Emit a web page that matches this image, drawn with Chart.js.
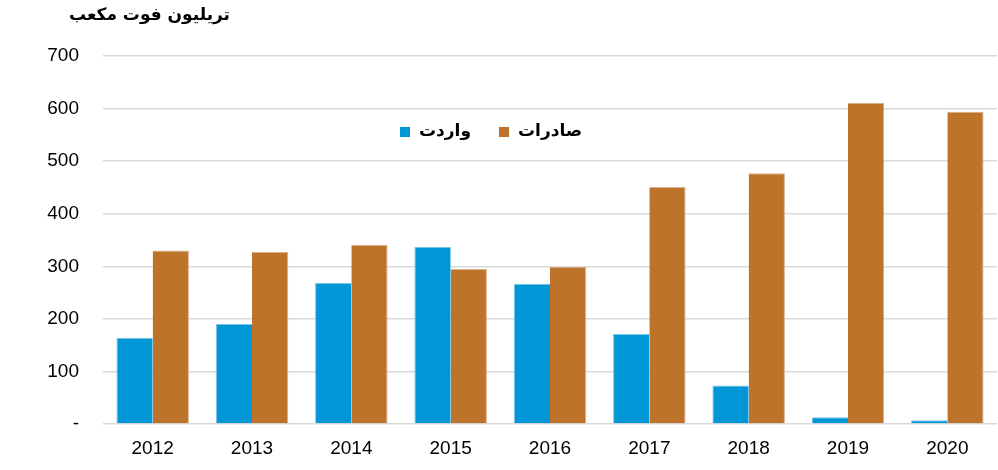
<!DOCTYPE html>
<html><head><meta charset="utf-8">
<script src="https://cdn.jsdelivr.net/npm/chart.js@4"></script>
<style>html,body{margin:0;padding:0;background:#fff}#wrap{width:998px;height:470px}</style>
</head><body><div id="wrap"><canvas id="c" width="998" height="470"></canvas></div>
<script>
const years = ["2012","2013","2014","2015","2016","2017","2018","2019","2020"];
const imports = [164, 190, 268, 337, 267, 171, 73, 13, 7];
const exports = [330, 327, 341, 295, 299, 451, 477, 611, 594];
const importsLabel = "واردت";
const exportsLabel = "صادرات";
const unitTitle = "تريليون فوت مكعب";
const yTicks = [0,100,200,300,400,500,600,700];

const overlay = {
  id: 'overlay',
  afterDraw(chart) {
    const ctx = chart.ctx;
    ctx.save();
    ctx.fillStyle = '#000';
    ctx.font = 'bold 17px "DejaVu Sans", sans-serif';
    ctx.textBaseline = 'middle';
    ctx.textAlign = 'right';
    ctx.direction = 'rtl';
    ctx.fillText(unitTitle, 230, 16);
    // legend
    const ds = chart.data.datasets;
    const items = [{x:400, ds:ds[0]}, {x:499, ds:ds[1]}];
    ctx.font = 'bold 17px "DejaVu Sans", sans-serif';
    items.forEach(it => {
      ctx.fillStyle = it.ds.backgroundColor;
      ctx.fillRect(it.x, 127, 10, 10);
      ctx.fillStyle = '#000';
      ctx.direction = 'rtl';
      ctx.textAlign = 'left';
      const w = ctx.measureText(it.ds.label).width;
      ctx.textAlign = 'right';
      ctx.fillText(it.ds.label, it.x + 19 + w, 132);
    });
    ctx.restore();
  }
};

new Chart(document.getElementById('c'), {
  type: 'bar',
  data: {
    labels: years,
    datasets: [
      {label: importsLabel, data: imports, backgroundColor: '#0197D6', borderColor: '#7cc4e8', borderWidth: {top: 1, left: 1, right: 0, bottom: 0}},
      {label: exportsLabel, data: exports, backgroundColor: '#BD732A', borderColor: '#dcb08a', borderWidth: {top: 1, left: 0, right: 1, bottom: 0}}
    ]
  },
  options: {
    responsive: false,
    animation: false,
    devicePixelRatio: 1,
    layout: {padding: {left: 0, right: 1, top: 56, bottom: 0}},
    plugins: {legend: {display: false}, title: {display: false}, tooltip: {enabled: false}},
    datasets: {bar: {categoryPercentage: 0.73, barPercentage: 1}},
    scales: {
      x: {
        grid: {display: false},
        border: {display: false},
        ticks: {color: '#000', font: {family: '"Liberation Sans", Arial', size: 19}, padding: 5},
        afterFit(s) { s.height = 46; }
      },
      y: {
        min: 0, max: 700,
        afterBuildTicks(s) { s.ticks = yTicks.map(v => ({value: v})); },
        grid: {color: '#d9d9d9', lineWidth: 1.5, drawTicks: false},
        border: {display: false},
        ticks: {color: '#000', font: {family: '"Liberation Sans", Arial', size: 19}, padding: 24,
                callback: v => v === 0 ? '-' : String(v)},
        afterFit(s) { s.width = 103; }
      }
    }
  },
  plugins: [overlay]
});
</script></body></html>
